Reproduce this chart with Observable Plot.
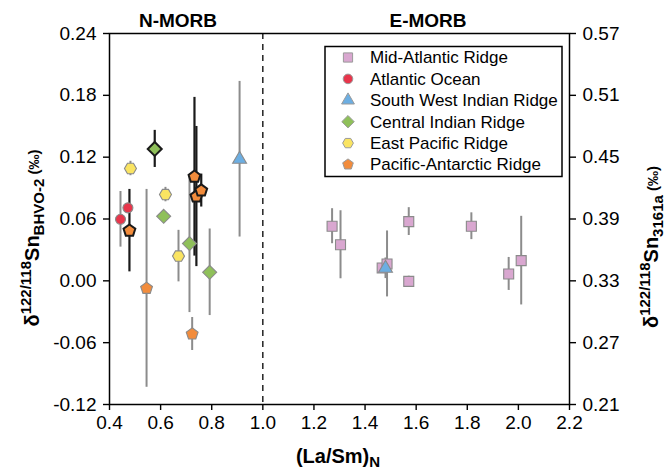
<!DOCTYPE html>
<html><head><meta charset="utf-8">
<script src="https://cdn.jsdelivr.net/npm/d3@7"></script>
<script src="https://cdn.jsdelivr.net/npm/@observablehq/plot@0.6"></script>
<style>
html,body{margin:0;padding:0;background:#fff;}
#chart{position:relative;width:671px;height:471px;}
</style></head><body><div id="chart"></div>
<script>
// ---- data: [ (La/Sm)N, δ122/118Sn(BHVO-2), error, highlighted (1) / other (0) ]
const seriesNames = ["Mid-Atlantic Ridge","Atlantic Ocean","South West Indian Ridge","Central Indian Ridge","East Pacific Ridge","Pacific-Antarctic Ridge"];
const midAtlanticRidge = [
  [1.271, 0.053, 0.017, 0],
  [1.304, 0.035, 0.033, 0],
  [1.467, 0.0125, 0.004, 0],
  [1.486, 0.0164, 0.032, 0],
  [1.571, 0.0575, 0.0135, 0],
  [1.571, -0.0005, 0.005, 0],
  [1.816, 0.053, 0.013, 0],
  [1.962, 0.0067, 0.016, 0],
  [2.011, 0.0196, 0.043, 0]
];
const atlanticOcean = [
  [0.443, 0.0597, 0.027, 0],
  [0.472, 0.0708, 0, 0]
];
const southWestIndianRidge = [
  [0.909, 0.118, 0.0755, 0],
  [1.480, 0.0122, 0.010, 0]
];
const centralIndianRidge = [
  [0.577, 0.128, 0.018, 1],
  [0.612, 0.0626, 0, 0],
  [0.713, 0.0362, 0.067, 0],
  [0.792, 0.0083, 0.042, 0]
];
const eastPacificRidge = [
  [0.482, 0.109, 0.007, 0],
  [0.619, 0.0837, 0.007, 0],
  [0.670, 0.024, 0.025, 0]
];
const pacificAntarcticRidge = [
  [0.478, 0.0487, 0.040, 1],
  [0.545, -0.0073, 0.096, 0],
  [0.7235, -0.0516, 0.016, 0],
  [0.7325, 0.101, 0.077, 1],
  [0.740, 0.0818, 0.068, 1],
  [0.759, 0.0876, 0.016, 1]
];
const xTicks = [0.4, 0.6, 0.8, 1.0, 1.2, 1.4, 1.6, 1.8, 2.0, 2.2];
const yTicks = [-0.12, -0.06, 0.00, 0.06, 0.12, 0.18, 0.24];
const offset3161a = 0.33;            // right axis = left axis + 0.33
const morbBoundary = [1.0];
const regionLabels = ["N-MORB", "E-MORB"];

// ---- styles
const seriesColors = ["#d9a7d0","#e8354b","#6caee2","#8fc05a","#fae462","#f28c3c"];
const FONT = "'Liberation Sans', Arial, Helvetica, sans-serif";

// custom symbols: R = sqrt(size/π) = the dot's r
function poly(n, rot) {
  return {draw(ctx, size) {
    const R = Math.sqrt(size / Math.PI);
    for (let i = 0; i < n; i++) {
      const a = rot + i * 2 * Math.PI / n;
      const px = R * Math.cos(a), py = R * Math.sin(a);
      i ? ctx.lineTo(px, py) : ctx.moveTo(px, py);
    }
    ctx.closePath();
  }};
}
const squareSym = {draw(ctx, size) { const h = Math.sqrt(size / Math.PI); ctx.rect(-h, -h, 2*h, 2*h); }};
const circleSym = {draw(ctx, size) { const r = Math.sqrt(size / Math.PI); ctx.moveTo(r, 0); ctx.arc(0, 0, r, 0, 2*Math.PI); }};
const triangleSym = poly(3, -Math.PI/2);
const diamondSym = poly(4, -Math.PI/2);
const hexagonSym = poly(6, 0);
const pentagonSym = poly(5, -Math.PI/2);
const symbols = [squareSym, circleSym, triangleSym, diamondSym, hexagonSym, pentagonSym];
const radii = [5, 5, 8, 7, 6, 6.2];

const groups = [midAtlanticRidge, atlanticOcean, southWestIndianRidge, centralIndianRidge, eastPacificRidge, pacificAntarcticRidge];
const rows = groups.flatMap((g, i) => g.map(([x, y, err, hl]) => ({series: seriesNames[i], si: i, x, y, err, hl})));

const dotMarks = [];
seriesNames.forEach((name, i) => {
  dotMarks.push(Plot.dot(rows.filter(d => d.si === i && !d.hl), {x: "x", y: "y", symbol: symbols[i], r: radii[i], fill: seriesColors[i], stroke: "#8a8a8a", strokeWidth: 1.1}));
  dotMarks.push(Plot.dot(rows.filter(d => d.si === i && d.hl), {x: "x", y: "y", symbol: symbols[i], r: radii[i], fill: seriesColors[i], stroke: "#1a1a1a", strokeWidth: 2}));
});

const chart = Plot.plot({
  width: 671, height: 471,
  marginLeft: 109, marginRight: 102, marginTop: 33, marginBottom: 67,
  style: {fontSize: "19px", fontFamily: FONT, color: "#000", background: "#fff"},
  x: {domain: [0.4, 2.2]},
  y: {domain: [-0.12, 0.24]},
  marks: [
    Plot.ruleX(morbBoundary, {stroke: "#000", strokeWidth: 1.3, strokeDasharray: "6,5"}),
    Plot.ruleX(rows.filter(d => d.err > 0 && !d.hl), {x: "x", y1: d => d.y - d.err, y2: d => d.y + d.err, stroke: "#8c8c8c", strokeWidth: 2}),
    Plot.ruleX(rows.filter(d => d.err > 0 && d.hl), {x: "x", y1: d => d.y - d.err, y2: d => d.y + d.err, stroke: "#1a1a1a", strokeWidth: 2.2}),
    ...dotMarks,
    Plot.frame({stroke: "#000", strokeWidth: 1.5}),
    Plot.axisX({ticks: xTicks, tickFormat: d => d.toFixed(1), tickSize: 6, tickPadding: 5, strokeWidth: 1.4, label: null}),
    Plot.axisY({anchor: "left", ticks: yTicks, tickFormat: d => d.toFixed(2), tickSize: 6, tickPadding: 7, strokeWidth: 1.4, label: null}),
    Plot.axisY({anchor: "right", ticks: yTicks, tickFormat: d => (d + offset3161a).toFixed(2), tickSize: 6, tickPadding: 7, strokeWidth: 1.4, label: null})
  ]
});
document.getElementById("chart").appendChild(chart);

// ---- annotations (legend, axis titles, region labels)
const svg = d3.select(chart);
const ann = svg.append("g").attr("font-family", FONT).attr("fill", "#000");

// region labels
const regionCenters = [178, 428];
regionLabels.forEach((t, i) => ann.append("text").attr("x", regionCenters[i]).attr("y", 27)
  .attr("text-anchor", "middle").attr("font-size", 19).attr("font-weight", "bold").text(t));

// y axis titles (rotated)
function yTitle(cx, cy, sub) {
  const t = ann.append("text").attr("transform", `translate(${cx},${cy}) rotate(-90)`)
    .attr("text-anchor", "middle").attr("font-weight", "bold").attr("font-size", 20);
  t.append("tspan").text("δ");
  t.append("tspan").attr("font-size", 15).attr("dy", -8).text("122/118");
  t.append("tspan").attr("dy", 8).text("Sn");
  t.append("tspan").attr("font-size", 15).attr("dy", 5).text(sub);
  t.append("tspan").attr("font-size", 15).attr("dy", -5).text(" (‰)");
}
yTitle(39, 238, "BHVO-2");
yTitle(658, 247, "3161a");

// x axis title
const xt = ann.append("text").attr("x", 338).attr("y", 463).attr("text-anchor", "middle")
  .attr("font-weight", "bold").attr("font-size", 20);
xt.append("tspan").text("(La/Sm)");
xt.append("tspan").attr("font-size", 15).attr("dy", 4).text("N");

// legend
const lg = ann.append("g");
lg.append("rect").attr("x", 325).attr("y", 46.5).attr("width", 237).attr("height", 130)
  .attr("fill", "#fff").attr("stroke", "#000").attr("stroke-width", 1.5);
const legendR = [4.6, 4.8, 7.4, 6.2, 5.4, 5.6];
seriesNames.forEach((name, i) => {
  const cy = 57.5 + i * 21.4;
  const p = d3.path();
  symbols[i].draw(p, Math.PI * legendR[i] * legendR[i]);
  lg.append("path").attr("d", p.toString()).attr("transform", `translate(348,${cy})`)
    .attr("fill", seriesColors[i]).attr("stroke", "#9a9a9a").attr("stroke-width", 1);
  lg.append("text").attr("x", 370).attr("y", cy).attr("dy", "0.35em").attr("text-anchor", "start")
    .attr("font-size", 17).text(name);
});
</script></body></html>
